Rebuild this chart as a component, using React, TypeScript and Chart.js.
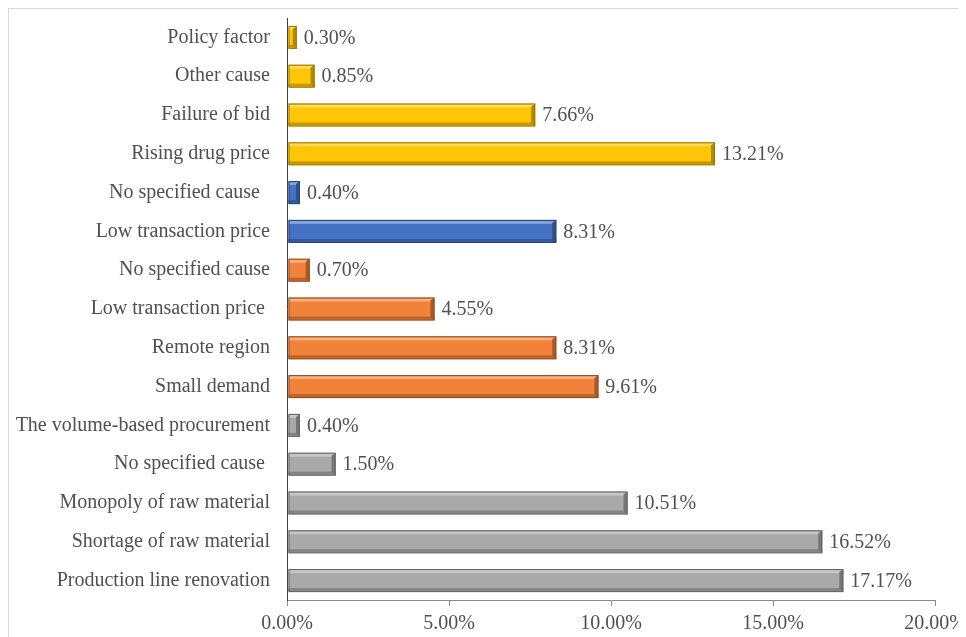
import React, { useEffect, useRef } from "react";
import { Chart, registerables } from "chart.js";

Chart.register(...registerables);

const CATEGORIES = [
  "Policy factor",
  "Other cause",
  "Failure of bid",
  "Rising drug price",
  "No specified cause  ",
  "Low transaction price",
  "No specified cause",
  "Low transaction price ",
  "Remote region",
  "Small demand",
  "The volume-based procurement",
  "No specified cause ",
  "Monopoly of raw material",
  "Shortage of raw material",
  "Production line renovation",
];

const VALUES = [0.3, 0.85, 7.66, 13.21, 0.4, 8.31, 0.7, 4.55, 8.31, 9.61, 0.4, 1.5, 10.51, 16.52, 17.17];

const GROUPS = [
  "gold", "gold", "gold", "gold",
  "blue", "blue",
  "orange", "orange", "orange", "orange",
  "gray", "gray", "gray", "gray", "gray",
];

const X_TICKS = [0, 5, 10, 15, 20];

const GROUP_COLORS: Record<string, string> = {
  gold: "#FFC507",
  blue: "#4472C4",
  orange: "#F0823A",
  gray: "#A9A9A9",
};

function mix(hex: string, target: number, f: number): string {
  const n = parseInt(hex.slice(1), 16);
  const r = (n >> 16) & 255, g = (n >> 8) & 255, b = n & 255;
  const m = (c: number) => Math.round(c + (target - c) * f);
  return `rgb(${m(r)},${m(g)},${m(b)})`;
}

const FONT = "'Liberation Serif', 'Times New Roman', serif";
const TEXT = "#505050";

const bevelPlugin = {
  id: "bevelBars",
  afterDatasetsDraw(chart: any) {
    const ctx = chart.ctx;
    const meta = chart.getDatasetMeta(0);
    ctx.save();
    meta.data.forEach((el: any, i: number) => {
      const base = GROUP_COLORS[GROUPS[i]];
      const left = Math.min(el.base, el.x) + 1;
      const right = Math.max(el.base, el.x);
      const top = el.y - el.height / 2;
      const h = el.height;
      const bottom = top + h;
      const w = right - left;
      ctx.fillStyle = base;
      ctx.fillRect(left, top, w, h);
      ctx.fillStyle = mix(base, 255, 0.35);
      ctx.fillRect(left, top + 1, w, 3);
      ctx.fillStyle = mix(base, 0, 0.22);
      ctx.fillRect(left, bottom - 4, w, 3);
      ctx.beginPath();
      const bw = Math.min(4, w / 2);
      ctx.moveTo(right - bw, top + 3);
      ctx.lineTo(right, top);
      ctx.lineTo(right, bottom);
      ctx.lineTo(right - bw, bottom - 3);
      ctx.closePath();
      ctx.fillStyle = mix(base, 0, 0.3);
      ctx.fill();
      ctx.strokeStyle = mix(base, 0, 0.4);
      ctx.lineWidth = 1;
      ctx.strokeRect(left + 0.5, top + 0.5, w - 1, h - 1);

      // value label
      ctx.fillStyle = TEXT;
      ctx.font = `20px ${FONT}`;
      ctx.textAlign = "left";
      ctx.textBaseline = "middle";
      ctx.fillText(VALUES[i].toFixed(2) + "%", right + 7, el.y + 1);
    });
    ctx.restore();
  },
};

export default function App() {
  const ref = useRef<HTMLCanvasElement>(null);

  useEffect(() => {
    if (!ref.current) return;
    const chart = new Chart(ref.current, {
      type: "bar",
      data: {
        labels: CATEGORIES,
        datasets: [
          {
            data: VALUES,
            backgroundColor: "rgba(0,0,0,0)",
            borderWidth: 0,
            barThickness: 23,
          },
        ],
      },
      options: {
        indexAxis: "y",
        responsive: false,
        animation: false,
        layout: { padding: { left: 0, top: 9, right: 31, bottom: 0 } },
        plugins: {
          legend: { display: false },
          tooltip: { enabled: false },
        },
        scales: {
          x: {
            min: 0,
            max: 20,
            afterFit: (s: any) => {
              s.height = 37;
              s.paddingLeft = 0;
              s.paddingRight = 0;
            },
            afterBuildTicks: (s: any) => {
              s.ticks = X_TICKS.map((v) => ({ value: v }));
            },
            grid: {
              drawOnChartArea: false,
              drawTicks: true,
              tickLength: 6,
              color: "#8a8a8a",
            },
            border: { display: true, color: "#8a8a8a", width: 1 },
            ticks: {
              padding: 6,
              color: TEXT,
              font: { family: FONT, size: 20 },
              callback: (v: any) => Number(v).toFixed(2) + "%",
            },
          },
          y: {
            afterFit: (s: any) => {
              s.width = 278;
              s.paddingTop = 0;
              s.paddingBottom = 0;
            },
            grid: { display: false, drawTicks: false },
            border: { display: true, color: "#404040", width: 1 },
            ticks: {
              padding: 17,
              color: TEXT,
              font: { family: FONT, size: 20 },
              autoSkip: false,
            },
          },
        },
      },
      plugins: [bevelPlugin],
    } as any);
    return () => chart.destroy();
  }, []);

  return (
    <div
      style={{
        borderTop: "1px solid #d9d9d9",
        borderLeft: "1px solid #d9d9d9",
        width: 958,
        height: 628,
        background: "#fff",
      }}
    >
      <canvas ref={ref} width={957} height={628} style={{ display: "block", width: 957, height: 628 }} />
    </div>
  );
}
